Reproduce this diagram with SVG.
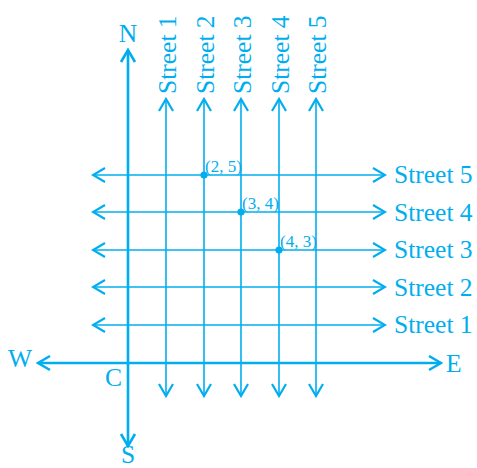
<svg xmlns="http://www.w3.org/2000/svg" width="477" height="468" viewBox="0 0 477 468">
<style>
.ax{stroke:#00AEEF;stroke-width:2.6;fill:none}
.st{stroke:#00AEEF;stroke-width:1.6;fill:none}
.lbl{font-family:"Liberation Serif","Times New Roman",serif;fill:#00AEEF;font-size:25.5px}
.cd{font-family:"Liberation Serif","Times New Roman",serif;fill:#00AEEF;font-size:17px}
.dot{fill:#00AEEF}
</style>
<defs>
<marker id="ah" markerUnits="userSpaceOnUse" viewBox="-14 -9 16 18" refX="0" refY="0" markerWidth="16" markerHeight="18" orient="auto-start-reverse">
<path d="M-12,-7 L0,0 L-12,7" fill="none" stroke="#00AEEF" stroke-width="2.6" stroke-linejoin="miter"/>
</marker>
<marker id="ahs" markerUnits="userSpaceOnUse" viewBox="-14 -9 16 18" refX="0" refY="0" markerWidth="16" markerHeight="18" orient="auto-start-reverse">
<path d="M-12,-7 L0,0 L-12,7" fill="none" stroke="#00AEEF" stroke-width="2.2" stroke-linejoin="miter"/>
</marker>
</defs>
<g id="connectors">
<line class="ax" x1="128" y1="446" x2="128" y2="50" marker-start="url(#ah)" marker-end="url(#ah)"/>
<line class="ax" x1="38" y1="363" x2="441" y2="363" marker-start="url(#ah)" marker-end="url(#ah)"/>
<line class="st" x1="166" y1="396" x2="166" y2="99" marker-start="url(#ahs)" marker-end="url(#ahs)"/>
<line class="st" x1="204" y1="396" x2="204" y2="99" marker-start="url(#ahs)" marker-end="url(#ahs)"/>
<line class="st" x1="241" y1="396" x2="241" y2="99" marker-start="url(#ahs)" marker-end="url(#ahs)"/>
<line class="st" x1="279" y1="396" x2="279" y2="99" marker-start="url(#ahs)" marker-end="url(#ahs)"/>
<line class="st" x1="316" y1="396" x2="316" y2="99" marker-start="url(#ahs)" marker-end="url(#ahs)"/>
<line class="st" x1="93" y1="175" x2="385" y2="175" marker-start="url(#ahs)" marker-end="url(#ahs)"/>
<line class="st" x1="93" y1="212" x2="385" y2="212" marker-start="url(#ahs)" marker-end="url(#ahs)"/>
<line class="st" x1="93" y1="250" x2="385" y2="250" marker-start="url(#ahs)" marker-end="url(#ahs)"/>
<line class="st" x1="93" y1="287" x2="385" y2="287" marker-start="url(#ahs)" marker-end="url(#ahs)"/>
<line class="st" x1="93" y1="325" x2="385" y2="325" marker-start="url(#ahs)" marker-end="url(#ahs)"/>
</g>
<g id="compass">
<text class="lbl" x="128" y="42" text-anchor="middle" font-size="23">N</text>
<text class="lbl" x="128" y="463" text-anchor="middle" font-size="20">S</text>
<text class="lbl" x="8" y="367" font-size="23">W</text>
<text class="lbl" x="446" y="372" font-size="23">E</text>
<text class="lbl" x="105" y="386" font-size="23">C</text>
</g>
<g id="v-streets">
<text class="lbl" transform="translate(176,94) rotate(-90)">Street 1</text>
<text class="lbl" transform="translate(214,94) rotate(-90)">Street 2</text>
<text class="lbl" transform="translate(251,94) rotate(-90)">Street 3</text>
<text class="lbl" transform="translate(289,94) rotate(-90)">Street 4</text>
<text class="lbl" transform="translate(326,94) rotate(-90)">Street 5</text>
</g>
<g id="h-streets">
<text class="lbl" x="394" y="183">Street 5</text>
<text class="lbl" x="394" y="221">Street 4</text>
<text class="lbl" x="394" y="258">Street 3</text>
<text class="lbl" x="394" y="296">Street 2</text>
<text class="lbl" x="394" y="333">Street 1</text>
</g>
<g id="point-2-5">
<circle class="dot" cx="204" cy="175" r="3.6"/>
<text class="cd" x="205" y="172">(2, 5)</text>
</g>
<g id="point-3-4">
<circle class="dot" cx="241" cy="212" r="3.6"/>
<text class="cd" x="242" y="209">(3, 4)</text>
</g>
<g id="point-4-3">
<circle class="dot" cx="279" cy="250" r="3.6"/>
<text class="cd" x="280" y="247">(4, 3)</text>
</g>
</svg>
